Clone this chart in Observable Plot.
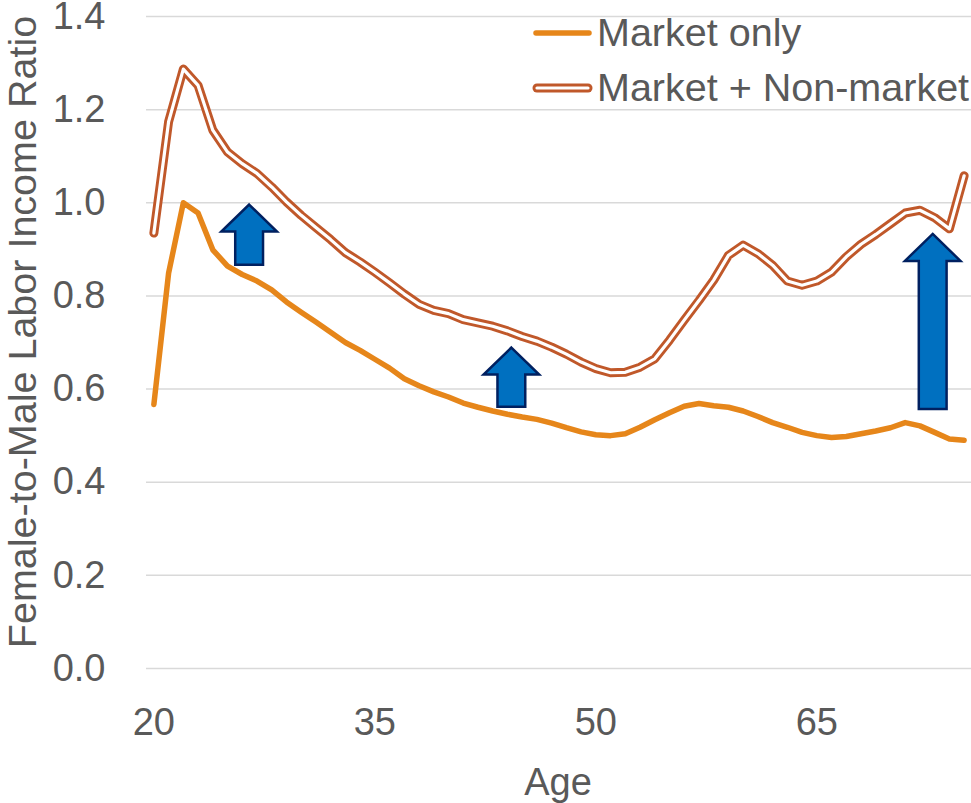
<!DOCTYPE html>
<html><head><meta charset="utf-8">
<script src="https://cdn.jsdelivr.net/npm/d3@7"></script>
<script src="https://cdn.jsdelivr.net/npm/@observablehq/plot@0.6"></script>
<style>body{margin:0;background:#fff;} #chart{width:971px;height:803px;}</style>
</head><body><div id="chart"></div>
<script>
const ages = [20,21,22,23,24,25,26,27,28,29,30,31,32,33,34,35,36,37,38,39,40,41,42,43,44,45,46,47,48,49,50,51,52,53,54,55,56,57,58,59,60,61,62,63,64,65,66,67,68,69,70,71,72,73,74,75];
const marketOnly = [0.567,0.849,1.000,0.978,0.899,0.864,0.846,0.832,0.813,0.787,0.765,0.744,0.722,0.700,0.683,0.664,0.645,0.622,0.607,0.594,0.583,0.570,0.561,0.553,0.546,0.540,0.535,0.527,0.517,0.508,0.502,0.500,0.504,0.518,0.534,0.549,0.563,0.569,0.564,0.561,0.553,0.541,0.528,0.518,0.507,0.500,0.496,0.498,0.504,0.510,0.517,0.528,0.521,0.507,0.493,0.490];
const marketNonMarket = [0.935,1.174,1.287,1.252,1.156,1.109,1.084,1.063,1.034,1.002,0.973,0.947,0.921,0.893,0.873,0.851,0.828,0.804,0.782,0.769,0.762,0.749,0.742,0.735,0.725,0.713,0.703,0.690,0.675,0.658,0.644,0.635,0.636,0.647,0.665,0.705,0.748,0.790,0.834,0.887,0.909,0.891,0.866,0.832,0.823,0.832,0.851,0.884,0.911,0.932,0.955,0.978,0.984,0.968,0.944,1.058];
const seriesNames = ["Market only", "Market + Non-market"];
const yTicks = [0, 0.2, 0.4, 0.6, 0.8, 1.0, 1.2, 1.4];
const xTicks = [20, 35, 50, 65];
const xTitle = "Age";
const yTitle = "Female-to-Male Labor Income Ratio";
const arrowAge = [26.5, 44.3, 72.9];
const arrowFrom = [0.866, 0.561, 0.556];
const arrowTo = [0.995, 0.688, 0.932];

const rows = ages.map((a, i) => ({age: a, market: marketOnly[i], total: marketNonMarket[i]}));
const arrows = arrowAge.map((a, i) => ({age: a, from: arrowFrom[i], to: arrowTo[i]}));

const FONT = "'Liberation Sans', Arial, sans-serif";
const TEXT = "#595959";
const ORANGE = "#E6861A";
const RUST = "#C0582A";

const arrowRender = (index, scales, values) => {
  const g = d3.create("svg:g");
  for (const i of index) {
    const x = values.x[i], yt = values.y2[i], yb = values.y1[i];
    const hl = 27, hw = 27.8, sw = 13.9;
    const d = `M${x},${yt}L${x+hw},${yt+hl}L${x+sw},${yt+hl}L${x+sw},${yb}L${x-sw},${yb}L${x-sw},${yt+hl}L${x-hw},${yt+hl}Z`;
    g.append("path").attr("d", d).attr("fill", "#0070C0").attr("stroke", "#002060").attr("stroke-width", 2.5);
  }
  return g.node();
};

const lineOpts = {x: "age", strokeLinejoin: "round", strokeLinecap: "round"};

const plot = Plot.plot({
  width: 971, height: 803,
  marginLeft: 146, marginRight: 0, marginTop: 16, marginBottom: 135,
  style: {fontFamily: FONT, fontSize: "38px", color: TEXT, background: "#fff", overflow: "visible"},
  x: {domain: [19.5, 75.5]},
  y: {domain: [0, 1.4]},
  marks: [
    Plot.gridY(yTicks, {stroke: "#D9D9D9", strokeOpacity: 1, strokeWidth: 1.5}),
    Plot.axisY(yTicks, {tickSize: 0, tickPadding: 41, tickFormat: d3.format(".1f"), fontSize: 38, fill: TEXT, label: null}),
    Plot.axisX(xTicks, {tickSize: 0, tickPadding: 40, tickFormat: d => String(d), fontSize: 38, fill: TEXT, label: null}),
    Plot.line(rows, {...lineOpts, y: "market", stroke: ORANGE, strokeWidth: 5.5}),
    Plot.line(rows, {...lineOpts, y: "total", stroke: RUST, strokeWidth: 9}),
    Plot.line(rows, {...lineOpts, y: "total", stroke: "#ffffff", strokeWidth: 3.2}),
    Plot.ruleX(arrows, {x: "age", y1: "from", y2: "to", render: arrowRender})
  ]
});

document.getElementById("chart").appendChild(plot);

const svg = d3.select(plot);
// axis titles
svg.append("text").text(yTitle)
  .attr("transform", "translate(36,332) rotate(-90)")
  .attr("text-anchor", "middle").attr("fill", TEXT)
  .style("font-family", FONT).style("font-size", "39.5px");
svg.append("text").text(xTitle)
  .attr("x", 558).attr("y", 795)
  .attr("text-anchor", "middle").attr("fill", TEXT)
  .style("font-family", FONT).style("font-size", "38px");

// legend
const lg = svg.append("g");
lg.append("line").attr("x1", 536).attr("x2", 589).attr("y1", 33).attr("y2", 33)
  .attr("stroke", ORANGE).attr("stroke-width", 5.5).attr("stroke-linecap", "round");
lg.append("line").attr("x1", 537).attr("x2", 588).attr("y1", 88).attr("y2", 88)
  .attr("stroke", RUST).attr("stroke-width", 9).attr("stroke-linecap", "round");
lg.append("line").attr("x1", 537).attr("x2", 588).attr("y1", 88).attr("y2", 88)
  .attr("stroke", "#ffffff").attr("stroke-width", 3.2).attr("stroke-linecap", "round");
lg.append("text").text(seriesNames[0]).attr("x", 597).attr("y", 46)
  .attr("text-anchor", "start")
  .attr("fill", TEXT).style("font-family", FONT).style("font-size", "39.5px");
lg.append("text").text(seriesNames[1]).attr("x", 597).attr("y", 101)
  .attr("text-anchor", "start")
  .attr("fill", TEXT).style("font-family", FONT).style("font-size", "39.5px");
</script>
</body></html>
